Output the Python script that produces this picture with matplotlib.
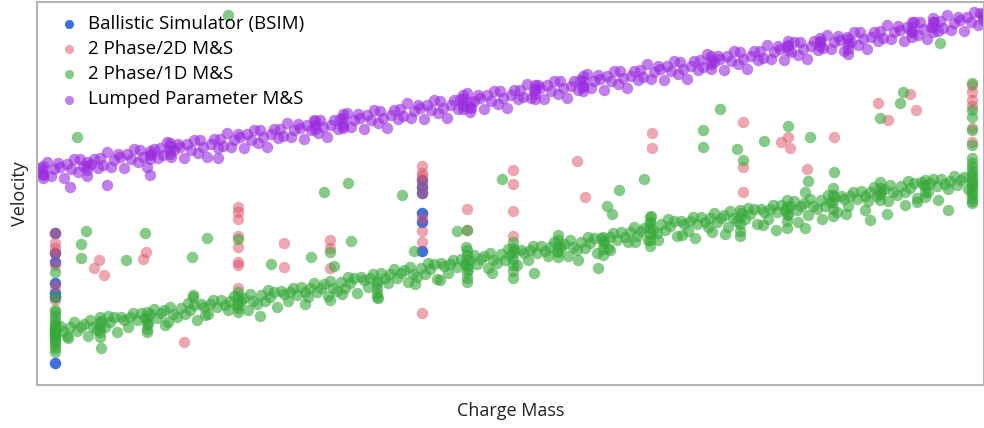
import numpy as np
import matplotlib.pyplot as plt

plt.rcParams['font.family'] = ['Open Sans', 'DejaVu Sans']

# values (charge mass, velocity), arbitrary units - no ticks on the chart
bsim = [
    (5.5, 167), (5.5, 147), (5.5, 138), (5.5, 117), (5.5, 107), (5.5, 103), (5.5, 37),
    (42.2, 220), (42.2, 213), (42.2, 207), (42.2, 187), (42.2, 178), (42.2, 149),
]

ms_2d = [
    (5.5, 167), (5.5, 157), (5.5, 152), (5.5, 147), (5.5, 135), (5.5, 114), (5.5, 100),
    (23.8, 193), (23.8, 188), (23.8, 181), (23.8, 164), (23.8, 153), (23.8, 138), (23.8, 135), (23.8, 112),
    (42.2, 234), (42.2, 227), (42.2, 224), (42.2, 217), (42.2, 207), (42.2, 182), (42.2, 169), (42.2, 158), (42.2, 87),
    (97.2, 315), (97.2, 308), (97.2, 300), (97.2, 294), (97.2, 272), (97.2, 258),
    (9.4, 132), (9.9, 140), (10.4, 125), (14.6, 148), (14.3, 141), (18.4, 58),
    (28.4, 157), (28.4, 133), (33.0, 160), (33.0, 152), (33.0, 132),
    (46.7, 191), (46.7, 170), (51.3, 230), (51.3, 216), (51.3, 189), (51.3, 164),
    (57.7, 239), (58.5, 203), (65.2, 267), (65.2, 252),
    (74.3, 278), (74.3, 233), (74.3, 208), (78.1, 258), (78.8, 263), (79.0, 252), (80.7, 231),
    (83.4, 263), (87.8, 297), (88.8, 280), (91.0, 306), (91.6, 290),
]

ms_1d_band = [
    (6.0, 74), (6.3, 69), (6.7, 64), (7.0, 73), (7.4, 78), (7.7, 69),
    (8.1, 73), (8.4, 76), (8.8, 64), (9.0, 80), (9.3, 73), (9.7, 70),
    (10.1, 79), (10.5, 73), (10.8, 84), (11.0, 78), (11.4, 83), (11.7, 68),
    (12.1, 83), (12.4, 80), (12.8, 73), (13.0, 83), (13.3, 87), (13.7, 80),
    (14.1, 87), (14.5, 82), (14.8, 77), (15.0, 86), (15.4, 91), (15.7, 82),
    (16.1, 87), (16.4, 90), (16.8, 78), (17.0, 93), (17.3, 86), (17.7, 83),
    (18.1, 92), (18.5, 86), (18.8, 97), (19.0, 90), (19.4, 95), (19.7, 80),
    (20.1, 96), (20.4, 93), (20.8, 86), (21.0, 96), (21.3, 100), (21.7, 93),
    (22.1, 100), (22.5, 95), (22.8, 90), (23.0, 99), (23.4, 104), (23.7, 95),
    (24.1, 99), (24.4, 102), (24.8, 90), (25.0, 106), (25.3, 99), (25.7, 96),
    (26.1, 105), (26.5, 99), (26.8, 110), (27.0, 103), (27.4, 108), (27.7, 93),
    (28.1, 109), (28.4, 106), (28.8, 99), (29.0, 108), (29.3, 112), (29.7, 105),
    (30.1, 113), (30.5, 108), (30.8, 103), (31.0, 112), (31.4, 117), (31.7, 108),
    (32.1, 112), (32.4, 116), (32.8, 104), (33.0, 119), (33.3, 112), (33.7, 109),
    (34.1, 118), (34.5, 112), (34.8, 123), (35.0, 117), (35.4, 122), (35.7, 107),
    (36.1, 123), (36.4, 120), (36.8, 113), (37.0, 122), (37.3, 126), (37.7, 119),
    (38.1, 127), (38.5, 122), (38.8, 117), (39.0, 126), (39.4, 131), (39.7, 122),
    (40.1, 127), (40.4, 130), (40.8, 118), (41.0, 133), (41.3, 126), (41.7, 123),
    (42.1, 132), (42.5, 126), (42.8, 137), (43.0, 131), (43.4, 136), (43.7, 121),
    (44.1, 137), (44.4, 134), (44.8, 127), (45.0, 136), (45.3, 140), (45.7, 133),
    (46.1, 141), (46.5, 136), (46.8, 131), (47.0, 140), (47.4, 145), (47.7, 136),
    (48.1, 141), (48.4, 144), (48.8, 132), (49.0, 147), (49.3, 140), (49.7, 137),
    (50.1, 146), (50.5, 140), (50.8, 151), (51.0, 145), (51.4, 150), (51.7, 135),
    (52.1, 150), (52.4, 147), (52.8, 140), (53.0, 150), (53.3, 154), (53.7, 147),
    (54.1, 154), (54.5, 149), (54.8, 144), (55.0, 153), (55.4, 158), (55.7, 149),
    (56.1, 153), (56.4, 156), (56.8, 144), (57.0, 160), (57.3, 153), (57.7, 150),
    (58.1, 158), (58.5, 152), (58.8, 163), (59.0, 157), (59.4, 162), (59.7, 147),
    (60.1, 162), (60.4, 159), (60.8, 152), (61.0, 163), (61.3, 167), (61.7, 160),
    (62.1, 168), (62.5, 163), (62.8, 158), (63.0, 168), (63.4, 173), (63.7, 164),
    (64.1, 169), (64.4, 172), (64.8, 160), (65.0, 177), (65.3, 170), (65.7, 167),
    (66.1, 176), (66.5, 170), (66.8, 181), (67.0, 174), (67.4, 179), (67.7, 164),
    (68.1, 179), (68.4, 176), (68.8, 169), (69.0, 179), (69.3, 183), (69.7, 176),
    (70.1, 183), (70.5, 178), (70.8, 173), (71.0, 182), (71.4, 187), (71.7, 178),
    (72.1, 182), (72.4, 185), (72.8, 173), (73.0, 189), (73.3, 182), (73.7, 179),
    (74.1, 187), (74.5, 181), (74.8, 192), (75.0, 186), (75.4, 191), (75.7, 176),
    (76.1, 191), (76.4, 188), (76.8, 181), (77.0, 191), (77.3, 195), (77.7, 188),
    (78.1, 195), (78.5, 190), (78.8, 185), (79.0, 194), (79.4, 199), (79.7, 190),
    (80.1, 194), (80.4, 197), (80.8, 185), (81.0, 201), (81.3, 194), (81.7, 191),
    (82.1, 200), (82.5, 194), (82.8, 205), (83.0, 198), (83.4, 203), (83.7, 188),
    (84.1, 204), (84.4, 201), (84.8, 194), (85.0, 204), (85.3, 208), (85.7, 201),
    (86.1, 209), (86.5, 204), (86.8, 199), (87.0, 208), (87.4, 213), (87.7, 204),
    (88.1, 208), (88.4, 211), (88.8, 199), (89.0, 215), (89.3, 208), (89.7, 205),
    (90.1, 214), (90.5, 208), (90.8, 219), (91.0, 212), (91.4, 217), (91.7, 202),
    (92.1, 218), (92.4, 215), (92.8, 208), (93.0, 217), (93.3, 221), (93.7, 214),
    (94.1, 221), (94.5, 216), (94.8, 211), (95.0, 219), (95.4, 224), (95.7, 215),
    (96.1, 220), (96.4, 223), (96.8, 211),
]

# vertical streaks where several runs share one charge mass
ms_1d_columns = [
    (5.5, 90), (5.5, 88), (5.5, 84), (5.5, 80), (5.5, 77), (5.5, 75), (5.5, 73), (5.5, 71),
    (5.5, 70), (5.5, 69), (5.5, 68), (5.5, 67), (5.5, 66), (5.5, 65), (5.5, 64), (5.5, 62),
    (5.5, 60), (5.5, 58), (5.5, 55), (5.5, 52), (5.5, 48), (5.5, 103), (5.5, 128),
    (10.0, 83), (10.0, 78), (10.0, 73), (10.0, 68), (10.0, 63),
    (14.7, 88), (14.7, 82), (14.7, 76), (14.7, 71), (14.7, 68),
    (19.3, 105), (19.3, 103),
    (23.8, 108), (23.8, 103), (23.8, 97), (23.8, 92), (23.8, 88), (23.8, 161),
    (37.7, 117), (37.7, 112), (37.7, 107), (37.7, 103),
    (46.7, 150), (46.7, 145), (46.7, 140), (46.7, 134), (46.7, 128), (46.7, 122), (46.7, 118),
    (51.3, 158), (51.3, 152), (51.3, 147), (51.3, 141), (51.3, 135), (51.3, 129), (51.3, 122),
    (55.8, 165), (55.8, 160), (55.8, 154), (55.8, 148), (55.8, 143),
    (60.3, 163), (60.3, 157), (60.3, 151), (60.3, 145),
    (65.0, 183), (65.0, 178), (65.0, 172), (65.0, 166), (65.0, 160), (65.0, 154),
    (74.0, 190), (74.0, 183), (74.0, 176), (74.0, 169), (74.0, 164),
    (78.7, 200), (78.7, 193), (78.7, 186), (78.7, 179), (78.7, 172),
    (83.3, 212), (83.3, 205), (83.3, 198), (83.3, 191), (83.3, 184),
    (88.0, 218), (88.0, 212), (88.0, 206), (88.0, 200),
    (92.5, 220), (92.5, 214), (92.5, 208), (92.5, 203),
    (97.2, 237), (97.2, 233), (97.2, 229), (97.2, 226), (97.2, 223), (97.2, 220), (97.2, 218),
    (97.2, 216), (97.2, 214), (97.2, 211), (97.2, 208), (97.2, 205), (97.2, 202), (97.2, 199),
    (97.2, 197), (97.2, 317), (97.2, 290), (97.2, 283), (97.2, 270), (97.2, 255), (97.2, 242),
]

ms_1d_scatter = [
    (6.8, 62), (10.1, 52), (16.5, 75), (20.5, 85), (26.0, 84), (30.5, 96), (33.0, 100),
    (34.2, 106), (37.8, 102), (41.5, 116), (44.0, 120), (49.2, 127), (53.4, 127), (59.8, 132),
    (57.8, 140), (61.0, 150), (63.5, 158), (65.8, 160), (68.2, 165), (69.5, 162), (71.2, 168),
    (72.5, 166), (76.3, 175), (77.6, 170), (79.8, 178), (80.5, 172), (82.2, 181), (84.6, 186),
    (86.5, 190), (87.0, 180), (88.7, 186), (90.5, 195), (91.7, 198), (93.8, 200), (94.8, 190),
    # above the band
    (7.7, 263), (8.6, 169), (8.1, 156), (8.1, 142), (12.6, 140), (14.5, 167), (19.2, 143),
    (20.7, 162), (27.1, 136), (31.1, 143), (32.4, 208), (34.8, 217), (35.1, 159), (33.4, 134),
    (33.0, 148), (40.2, 205), (41.4, 149), (45.7, 169), (46.7, 170), (46.6, 153), (50.2, 221),
    (61.9, 210), (64.4, 221), (60.7, 194), (61.2, 186), (65.1, 184), (70.3, 270), (70.3, 253),
    (72.0, 291), (73.7, 251), (74.3, 240), (76.4, 259), (78.8, 274), (81.0, 263), (83.4, 228),
    (80.8, 219), (80.5, 208), (88.0, 282), (90.0, 297), (90.3, 308), (22.8, 385), (94.0, 357),
]

lumped_band = [
    (4.0, 232), (4.3, 225), (4.7, 238), (5.1, 224), (5.4, 231), (5.8, 237),
    (6.0, 233), (6.4, 222), (6.7, 236), (7.1, 231), (7.4, 241), (7.8, 228),
    (8.0, 241), (8.3, 234), (8.7, 224), (9.1, 236), (9.4, 241), (9.8, 232),
    (10.0, 242), (10.3, 235), (10.7, 248), (11.1, 233), (11.4, 240), (11.8, 246),
    (12.0, 243), (12.4, 232), (12.7, 246), (13.1, 241), (13.4, 251), (13.8, 238),
    (14.0, 250), (14.3, 243), (14.7, 233), (15.1, 246), (15.4, 251), (15.8, 242),
    (16.0, 252), (16.3, 245), (16.7, 258), (17.1, 243), (17.4, 250), (17.8, 256),
    (18.0, 253), (18.4, 242), (18.7, 256), (19.1, 250), (19.4, 260), (19.8, 247),
    (20.0, 260), (20.3, 253), (20.7, 243), (21.1, 256), (21.4, 261), (21.8, 252),
    (22.0, 261), (22.3, 254), (22.7, 267), (23.1, 253), (23.4, 260), (23.8, 266),
    (24.0, 263), (24.4, 252), (24.7, 266), (25.1, 260), (25.4, 270), (25.8, 257),
    (26.0, 270), (26.3, 263), (26.7, 253), (27.1, 266), (27.4, 271), (27.8, 262),
    (28.0, 271), (28.3, 264), (28.7, 277), (29.1, 263), (29.4, 270), (29.8, 276),
    (30.0, 272), (30.4, 261), (30.7, 275), (31.1, 270), (31.4, 280), (31.8, 267),
    (32.0, 280), (32.3, 273), (32.7, 263), (33.1, 275), (33.4, 280), (33.8, 271),
    (34.0, 281), (34.3, 274), (34.7, 287), (35.1, 273), (35.4, 280), (35.8, 286),
    (36.0, 282), (36.4, 271), (36.7, 285), (37.1, 280), (37.4, 290), (37.8, 277),
    (38.0, 289), (38.3, 282), (38.7, 272), (39.1, 285), (39.4, 290), (39.8, 281),
    (40.0, 291), (40.3, 284), (40.7, 297), (41.1, 282), (41.4, 289), (41.8, 295),
    (42.0, 292), (42.4, 281), (42.7, 295), (43.1, 290), (43.4, 300), (43.8, 287),
    (44.0, 299), (44.3, 292), (44.7, 282), (45.1, 295), (45.4, 300), (45.8, 291),
    (46.0, 301), (46.3, 294), (46.7, 307), (47.1, 292), (47.4, 299), (47.8, 305),
    (48.0, 302), (48.4, 291), (48.7, 305), (49.1, 299), (49.4, 309), (49.8, 296),
    (50.0, 309), (50.3, 302), (50.7, 292), (51.1, 305), (51.4, 310), (51.8, 301),
    (52.0, 310), (52.3, 303), (52.7, 316), (53.1, 302), (53.4, 309), (53.8, 315),
    (54.0, 312), (54.4, 301), (54.7, 315), (55.1, 309), (55.4, 319), (55.8, 306),
    (56.0, 319), (56.3, 312), (56.7, 302), (57.1, 314), (57.4, 319), (57.8, 310),
    (58.0, 320), (58.3, 313), (58.7, 326), (59.1, 312), (59.4, 319), (59.8, 325),
    (60.0, 321), (60.4, 310), (60.7, 324), (61.1, 319), (61.4, 329), (61.8, 316),
    (62.0, 329), (62.3, 322), (62.7, 312), (63.1, 324), (63.4, 329), (63.8, 320),
    (64.0, 330), (64.3, 323), (64.7, 336), (65.1, 321), (65.4, 328), (65.8, 334),
    (66.0, 331), (66.4, 320), (66.7, 334), (67.1, 329), (67.4, 339), (67.8, 326),
    (68.0, 338), (68.3, 331), (68.7, 321), (69.1, 334), (69.4, 339), (69.8, 330),
    (70.0, 340), (70.3, 333), (70.7, 346), (71.1, 331), (71.4, 338), (71.8, 344),
    (72.0, 341), (72.4, 330), (72.7, 344), (73.1, 339), (73.4, 349), (73.8, 336),
    (74.0, 348), (74.3, 341), (74.7, 331), (75.1, 344), (75.4, 349), (75.8, 340),
    (76.0, 349), (76.3, 342), (76.7, 355), (77.1, 341), (77.4, 348), (77.8, 354),
    (78.0, 351), (78.4, 340), (78.7, 354), (79.1, 348), (79.4, 358), (79.8, 345),
    (80.0, 358), (80.3, 351), (80.7, 341), (81.1, 354), (81.4, 359), (81.8, 350),
    (82.0, 359), (82.3, 352), (82.7, 365), (83.1, 351), (83.4, 358), (83.8, 364),
    (84.0, 360), (84.4, 349), (84.7, 363), (85.1, 358), (85.4, 368), (85.8, 355),
    (86.0, 368), (86.3, 361), (86.7, 351), (87.1, 363), (87.4, 368), (87.8, 359),
    (88.0, 369), (88.3, 362), (88.7, 375), (89.1, 361), (89.4, 368), (89.8, 374),
    (90.0, 370), (90.4, 359), (90.7, 373), (91.1, 368), (91.4, 378), (91.8, 365),
    (92.0, 378), (92.3, 371), (92.7, 361), (93.1, 373), (93.4, 378), (93.8, 369),
    (94.0, 379), (94.3, 372), (94.7, 385), (95.1, 370), (95.4, 377), (95.8, 383),
    (96.0, 380), (96.4, 369), (96.7, 383), (97.1, 378), (97.4, 388), (97.8, 375),
    (98.0, 387), (98.3, 380),
]

lumped_columns = [
    (4.3, 222), (4.3, 226), (4.3, 230), (4.3, 234), (8.7, 230), (8.7, 234), (8.7, 238),
    (15.0, 241), (15.0, 245), (15.0, 249), (17.0, 246), (17.0, 250), (17.0, 254), (17.0, 257),
    (31.5, 271), (31.5, 275), (31.5, 279), (34.3, 272), (34.3, 277), (34.3, 282), (34.3, 286),
    (46.3, 291), (46.3, 296), (46.3, 301), (46.3, 305), (47.0, 288), (47.0, 293), (47.0, 298),
    (53.5, 301), (53.5, 306), (53.5, 311), (53.5, 315), (58.3, 309), (58.3, 314), (58.3, 319), (58.3, 324),
    (71.1, 336), (71.1, 340), (71.1, 344), (78.8, 350), (78.8, 355), (78.8, 359),
    (82.0, 354), (82.0, 358), (82.0, 362), (84.8, 346), (84.8, 351), (84.8, 356), (84.8, 361),
    (91.2, 363), (91.2, 368), (91.2, 373), (91.2, 378), (93.3, 368), (93.3, 373), (93.3, 378), (93.3, 382),
    (98.3, 383), (98.3, 386),
    (7.0, 213), (10.7, 215), (15.0, 225), (21.8, 242),
]

series_names = ['Ballistic Simulator (BSIM)', '2 Phase/2D M&S', '2 Phase/1D M&S', 'Lumped Parameter M&S']
series_colors = ['#2b5fdc', '#dc5064', '#37a93a', '#9a2ce0']
series_alpha = [0.9, 0.5, 0.6, 0.6]

series = [
    np.array(bsim),
    np.array(ms_2d),
    np.array(ms_1d_band + ms_1d_columns + ms_1d_scatter),
    np.array(lumped_band + lumped_columns),
]

fig = plt.figure(figsize=(9.84, 4.28), dpi=100)
ax = fig.add_axes([37 / 984, 43 / 428, 947 / 984, 383 / 428])

for pts, name, col, a in zip(series, series_names, series_colors, series_alpha):
    ax.scatter(pts[:, 0], pts[:, 1], s=68, color=col, alpha=a, linewidths=0, label=name)

ax.set_xlim(3.7, 98.4)
ax.set_ylim(15, 398)
ax.set_xticks([])
ax.set_yticks([])
for sp in ax.spines.values():
    sp.set_color('#b4b4b4')
    sp.set_linewidth(1.5)

ax.set_xlabel('Charge Mass', fontsize=13, color='#222222', labelpad=12)
ax.set_ylabel('Velocity', fontsize=13, color='#222222', labelpad=6)

ax.legend(loc='upper left', frameon=False, fontsize=13.5, handletextpad=0.0,
          labelspacing=0.38, borderaxespad=0.3, borderpad=0.4, scatterpoints=1,
          markerscale=0.8)

fig.savefig('out.png', dpi=100)
